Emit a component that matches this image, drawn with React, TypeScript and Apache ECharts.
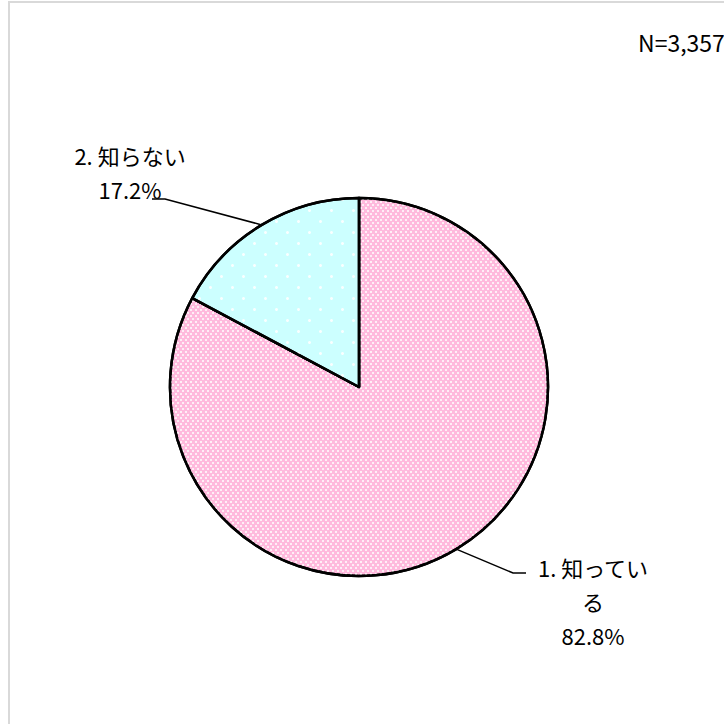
import React, { useEffect, useRef } from "react";
import * as echarts from "echarts";

const categories = ["1. 知っている", "2. 知らない"];
const percentValues = [82.8, 17.2];
const sampleLabel = "N=3,357";

const FONT = "'Noto Sans CJK JP', 'Noto Sans', sans-serif";

export default function App() {
  const ref = useRef<HTMLDivElement>(null);
  useEffect(() => {
    if (!ref.current) return;
    const chart = echarts.init(ref.current, null, { renderer: "svg" });
    const fills = [
      {
        color: "#FFBADD",
        decal: {
          symbol: "rect",
          symbolSize: 1,
          color: "rgba(255,255,255,0.75)",
          dashArrayX: [
            [1.5, 2.5],
            [0, 2, 1.5, 0.5],
          ],
          dashArrayY: [1.5, 0.5],
        },
      },
      {
        color: "#CCFFFF",
        decal: {
          symbol: "circle",
          symbolSize: 1,
          color: "rgba(255,255,255,0.9)",
          dashArrayX: [
            [3, 18.7],
            [0, 10.85, 3, 7.85],
          ],
          dashArrayY: [3, 7.8],
        },
      },
    ];
    // label block centre, wrap width, and leader-line elbow/end offsets relative to the centre
    const labelPos = [
      { x: 593, y: 601, width: 122, elbow: [-80, -28], end: [-67, -28] },
      { x: 130, y: 172, width: 170, elbow: [35, 27], end: [22, 27] },
    ];
    const data = categories.map((name, i) => ({
      name,
      value: percentValues[i],
      itemStyle: fills[i],
      label: { width: labelPos[i].width },
    }));
    chart.setOption({
      animation: false,
      aria: { enabled: false },
      graphic: [
        {
          type: "rect",
          shape: { x: 9, y: 2, width: 900, height: 900 },
          style: { fill: "none", stroke: "#D9D9D9", lineWidth: 2 },
          silent: true,
        },
        {
          type: "text",
          left: 638,
          top: 30,
          style: {
            text: sampleLabel,
            font: `23px ${FONT}`,
            fill: "#000",
          },
        },
      ],
      series: [
        {
          type: "pie",
          center: [359, 387],
          radius: [0, 189],
          startAngle: 90,
          clockwise: true,
          percentPrecision: 1,
          data,
          itemStyle: { borderColor: "#000", borderWidth: 2.5 },
          emphasis: { disabled: true },
          label: {
            show: true,
            formatter: "{b}\n{d}%",
            fontFamily: FONT,
            fontSize: 22,
            lineHeight: 34,
            color: "#000",
            align: "center",
            overflow: "break",
          },
          labelLine: {
            show: true,
            length: 20,
            length2: 10,
            lineStyle: { color: "#000", width: 1.5 },
          },
          labelLayout: (params: any) => {
            const p = labelPos[params.dataIndex];
            const anchor = params.labelLinePoints
              ? params.labelLinePoints[0]
              : [p.x, p.y];
            return {
              x: p.x,
              y: p.y,
              align: "center",
              verticalAlign: "middle",
              labelLinePoints: [
                anchor,
                [p.x + p.elbow[0], p.y + p.elbow[1]],
                [p.x + p.end[0], p.y + p.end[1]],
              ],
            };
          },
        },
      ],
    });
    return () => chart.dispose();
  }, []);
  return (
    <div
      ref={ref}
      style={{ position: "absolute", left: 0, top: 0, width: 724, height: 724, background: "#fff" }}
    />
  );
}
